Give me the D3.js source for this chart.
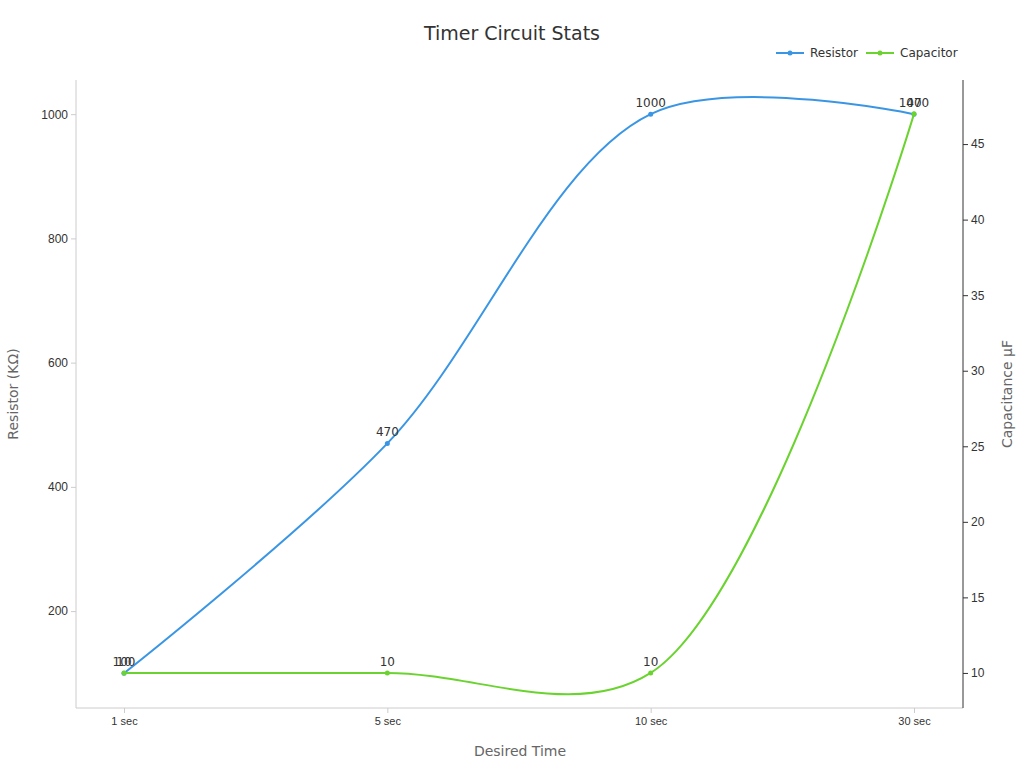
<!DOCTYPE html>
<html><head><meta charset="utf-8">
<script src="https://cdn.jsdelivr.net/npm/d3@7"></script>
<style>body{margin:0;background:#fff;font-family:"DejaVu Sans",sans-serif}</style>
</head><body><div id="chart"></div>
<script>
var categories = ["1 sec", "5 sec", "10 sec", "30 sec"];
var resistor = [100, 470, 1000, 1000];
var capacitor = [10, 10, 10, 47];
var leftTicks = [200, 400, 600, 800, 1000];
var rightTicks = [10, 15, 20, 25, 30, 35, 40, 45];

var svg = d3.select("#chart").append("svg")
	.attr("width", 1024).attr("height", 768);

var plotLeft = 76, plotRight = 963, plotTop = 80, plotBottom = 708;

var x = d3.scalePoint().domain(categories).range([124, 914]);
var yL = d3.scaleLinear().domain([44, 1055]).range([plotBottom, plotTop]);
var yR = d3.scaleLinear().domain([7.68, 49.24]).range([plotBottom, plotTop]);

svg.append("text").attr("x", 512).attr("y", 40).attr("text-anchor", "middle")
	.attr("font-size", 19).attr("fill", "#333").text("Timer Circuit Stats");

// axes
var gx = svg.append("g").attr("transform", "translate(0," + plotBottom + ")")
	.call(d3.axisBottom(x).tickSize(5).tickPadding(4));
gx.select(".domain").attr("stroke", "#ccc").attr("d", "M" + plotLeft + ",0H" + plotRight);
gx.selectAll(".tick line").attr("stroke", "#ccc");
gx.selectAll("text").attr("font-size", 11).attr("fill", "#333");

var gl = svg.append("g").attr("transform", "translate(" + plotLeft + ",0)")
	.call(d3.axisLeft(yL).tickValues(leftTicks).tickFormat(d3.format("d")).tickSize(5));
gl.select(".domain").attr("stroke", "#ccc").attr("d", "M0," + plotTop + "V" + plotBottom);
gl.selectAll(".tick line").attr("stroke", "#ccc");
gl.selectAll("text").attr("font-size", 12).attr("fill", "#333");

var gr = svg.append("g").attr("transform", "translate(" + plotRight + ",0)")
	.call(d3.axisRight(yR).tickValues(rightTicks).tickFormat(d3.format("d")).tickSize(5));
gr.select(".domain").attr("stroke", "#333").attr("d", "M0," + plotTop + "V" + plotBottom);
gr.selectAll(".tick line").attr("stroke", "#333");
gr.selectAll("text").attr("font-size", 12).attr("fill", "#333");

svg.append("text").attr("x", 520).attr("y", 756).attr("text-anchor", "middle")
	.attr("font-size", 14).attr("fill", "#666").text("Desired Time");
svg.append("text").attr("transform", "translate(18,394) rotate(-90)").attr("text-anchor", "middle")
	.attr("font-size", 14).attr("fill", "#666").text("Resistor (KΩ)");
svg.append("text").attr("transform", "translate(1012,394) rotate(-90)").attr("text-anchor", "middle")
	.attr("font-size", 14).attr("fill", "#666").text("Capacitance μF");

function drawSeries(values, y, color) {
	var line = d3.line()
		.x(function(d, i){ return x(categories[i]); })
		.y(function(d){ return y(d); })
		.curve(d3.curveCatmullRom.alpha(0.5));
	svg.append("path").datum(values).attr("d", line)
		.attr("fill", "none").attr("stroke", color).attr("stroke-width", 2);
	svg.selectAll(null).data(values).enter().append("circle")
		.attr("cx", function(d, i){ return x(categories[i]); })
		.attr("cy", function(d){ return y(d); })
		.attr("r", 2.5).attr("fill", color);
	svg.selectAll(null).data(values).enter().append("text")
		.attr("x", function(d, i){ return x(categories[i]); })
		.attr("y", function(d){ return y(d) - 7; })
		.attr("text-anchor", "middle").attr("font-size", 12).attr("fill", "#333")
		.text(function(d){ return d; });
}
drawSeries(resistor, yL, "#3a96e4");
drawSeries(capacitor, yR, "#6bd330");

// legend
var legend = [["Resistor", "#3a96e4", 776], ["Capacitor", "#6bd330", 866]];
legend.forEach(function(l){
	var g = svg.append("g").attr("transform", "translate(" + l[2] + ",53)");
	g.append("line").attr("x1", 0).attr("x2", 28).attr("stroke", l[1]).attr("stroke-width", 2);
	g.append("circle").attr("cx", 14).attr("r", 2.5).attr("fill", l[1]);
	g.append("text").attr("x", 34).attr("y", 4).attr("font-size", 12).attr("fill", "#333").text(l[0]);
});
</script></body></html>
